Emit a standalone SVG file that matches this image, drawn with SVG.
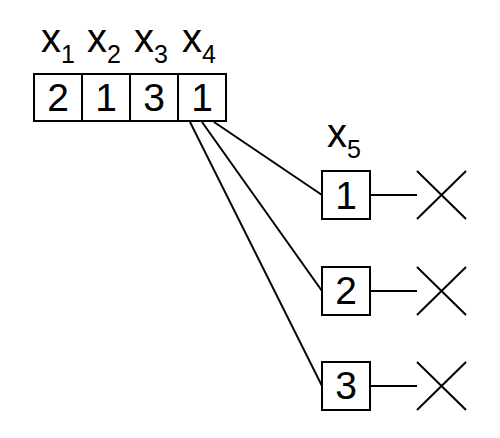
<svg xmlns="http://www.w3.org/2000/svg" width="500" height="438" viewBox="0 0 500 438">
<style>
.box{fill:#fff;stroke:#000;stroke-width:2}
.ln{stroke:#000;stroke-width:2;fill:none}
.t{font-family:"Liberation Sans",Arial,sans-serif;font-size:40px;fill:#000}
.d{font-family:"Liberation Sans",Arial,sans-serif;font-size:39px;fill:#000;text-anchor:middle}
.s{font-size:25px}
</style>
<rect width="500" height="438" fill="#fff"/>
<g id="connectors">
<line class="ln" x1="214" y1="122" x2="322" y2="195"/>
<line class="ln" x1="202" y1="122" x2="322" y2="291"/>
<line class="ln" x1="190" y1="122" x2="322" y2="386"/>
<line class="ln" x1="370" y1="195" x2="417" y2="195"/>
<line class="ln" x1="370" y1="291" x2="417" y2="291"/>
<line class="ln" x1="370" y1="386" x2="417" y2="386"/>
</g>
<g id="labels">
<text class="t" x="41" y="52">x<tspan class="s" dy="11">1</tspan></text>
<text class="t" x="87" y="52">x<tspan class="s" dy="11">2</tspan></text>
<text class="t" x="134" y="52">x<tspan class="s" dy="11">3</tspan></text>
<text class="t" x="182" y="52">x<tspan class="s" dy="11">4</tspan></text>
<text class="t" x="327" y="147">x<tspan class="s" dy="11">5</tspan></text>
</g>
<g id="x1"><rect class="box" x="34" y="74" width="48" height="47"/><text class="d" x="58" y="111">2</text></g>
<g id="x2"><rect class="box" x="82" y="74" width="48" height="47"/><text class="d" x="106" y="111">1</text></g>
<g id="x3"><rect class="box" x="130" y="74" width="48" height="47"/><text class="d" x="154" y="111">3</text></g>
<g id="x4"><rect class="box" x="178" y="74" width="48" height="47"/><text class="d" x="202" y="111">1</text></g>
<g id="x5-1"><rect class="box" x="322" y="171" width="48" height="48"/><text class="d" x="346" y="209">1</text></g>
<g id="x5-2"><rect class="box" x="322" y="267" width="48" height="48"/><text class="d" x="346" y="304">2</text></g>
<g id="x5-3"><rect class="box" x="322" y="362" width="48" height="48"/><text class="d" x="346" y="399">3</text></g>
<g id="cross-1"><path class="ln" d="M417 171L466 219M417 219L466 171"/></g>
<g id="cross-2"><path class="ln" d="M417 267L466 315M417 315L466 267"/></g>
<g id="cross-3"><path class="ln" d="M417 362L466 410M417 410L466 362"/></g>
</svg>
